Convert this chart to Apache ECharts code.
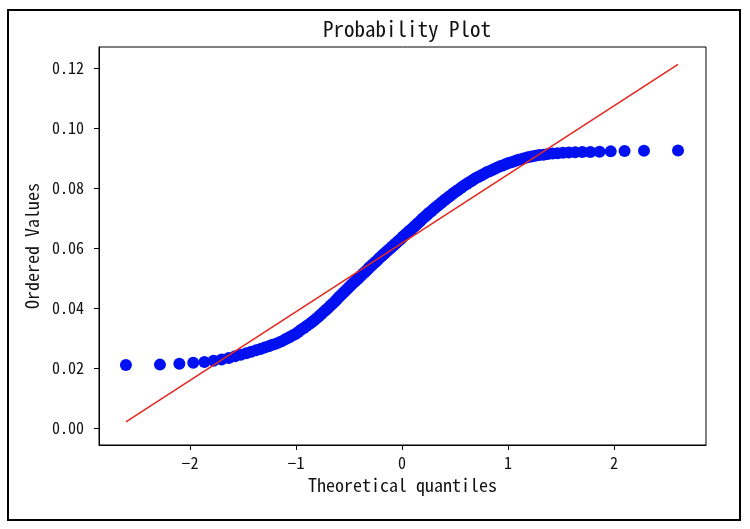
<!DOCTYPE html>
<html>
<head>
<meta charset="utf-8">
<script src="https://cdn.jsdelivr.net/npm/echarts@6/dist/echarts.min.js"></script>
<style>
html,body{margin:0;padding:0;background:#fff;}
#chart{width:750px;height:529px;}
</style>
</head>
<body>
<div id="chart"></div>
<script>
// Theoretical quantiles (x)
var xQuantiles = [
-2.604,-2.283,-2.100,-1.969,-1.864,-1.777,-1.701,-1.634,-1.574,-1.519,
-1.468,-1.421,-1.376,-1.335,-1.295,-1.257,-1.222,-1.187,-1.154,-1.122,
-1.091,-1.062,-1.033,-1.005,-0.978,-0.951,-0.925,-0.900,-0.875,-0.851,
-0.827,-0.804,-0.781,-0.759,-0.737,-0.715,-0.694,-0.673,-0.652,-0.631,
-0.611,-0.591,-0.571,-0.552,-0.533,-0.514,-0.495,-0.476,-0.457,-0.439,
-0.420,-0.402,-0.384,-0.366,-0.349,-0.331,-0.313,-0.296,-0.279,-0.261,
-0.244,-0.227,-0.210,-0.193,-0.176,-0.159,-0.142,-0.125,-0.109,-0.092,
-0.075,-0.058,-0.042,-0.025,-0.008,
0.008,0.025,0.042,0.058,0.075,0.092,0.109,0.125,0.142,0.159,
0.176,0.193,0.210,0.227,0.244,0.261,0.279,0.296,0.313,0.331,
0.349,0.366,0.384,0.402,0.420,0.439,0.457,0.476,0.495,0.514,
0.533,0.552,0.571,0.591,0.611,0.631,0.652,0.673,0.694,0.715,
0.737,0.759,0.781,0.804,0.827,0.851,0.875,0.900,0.925,0.951,
0.978,1.005,1.033,1.062,1.091,1.122,1.154,1.187,1.222,1.257,
1.295,1.335,1.376,1.421,1.468,1.519,1.574,1.634,1.701,1.777,
1.864,1.969,2.100,2.283,2.604
];
// Ordered values (y)
var orderedValues = [
0.0210,0.0211,0.0214,0.0217,0.0220,0.0224,0.0228,0.0233,0.0239,0.0244,
0.0249,0.0254,0.0259,0.0263,0.0268,0.0272,0.0277,0.0281,0.0286,0.0291,
0.0297,0.0302,0.0308,0.0313,0.0320,0.0327,0.0333,0.0340,0.0346,0.0352,
0.0359,0.0366,0.0373,0.0380,0.0387,0.0394,0.0401,0.0408,0.0415,0.0422,
0.0430,0.0437,0.0444,0.0451,0.0457,0.0464,0.0471,0.0477,0.0484,0.0490,
0.0496,0.0502,0.0508,0.0515,0.0520,0.0526,0.0533,0.0538,0.0544,0.0550,
0.0555,0.0561,0.0567,0.0572,0.0578,0.0583,0.0589,0.0594,0.0599,0.0605,
0.0610,0.0615,0.0621,0.0626,0.0631,
0.0637,0.0642,0.0647,0.0653,0.0658,0.0663,0.0669,0.0674,0.0680,0.0685,
0.0691,0.0697,0.0702,0.0707,0.0713,0.0718,0.0723,0.0729,0.0734,0.0739,
0.0744,0.0749,0.0754,0.0760,0.0764,0.0770,0.0774,0.0780,0.0785,0.0790,
0.0794,0.0799,0.0804,0.0809,0.0813,0.0818,0.0822,0.0827,0.0832,0.0836,
0.0840,0.0844,0.0848,0.0853,0.0856,0.0860,0.0864,0.0868,0.0872,0.0875,
0.0879,0.0883,0.0886,0.0889,0.0893,0.0896,0.0899,0.0902,0.0905,0.0907,
0.0910,0.0911,0.0913,0.0915,0.0916,0.0917,0.0918,0.0919,0.0920,0.0920,
0.0921,0.0922,0.0923,0.0924,0.0925
];
// Least-squares fit line endpoints
var fitX = [-2.604, 2.604];
var fitY = [0.0020, 0.1212];
// Tick labels
var xTicks = [-2, -1, 0, 1, 2];
var yTicks = [0.00, 0.02, 0.04, 0.06, 0.08, 0.10, 0.12];

var FONT = '"Noto Sans Mono CJK SC", "Noto Sans CJK SC", "DejaVu Sans Mono", monospace';

var points = xQuantiles.map(function (x, i) { return [x, orderedValues[i]]; });
var fitLine = fitX.map(function (x, i) { return [x, fitY[i]]; });

var chart = echarts.init(document.getElementById('chart'), null, {renderer: 'canvas'});
chart.setOption({
  animation: false,
  backgroundColor: '#fff',
  title: {
    text: 'Probability Plot',
    left: 402,
    top: 14,
    textAlign: 'center',
    textStyle: {fontFamily: FONT, fontSize: 21, fontWeight: 'normal', color: '#111'}
  },
  graphic: [{
    type: 'rect',
    shape: {x: 8, y: 10, width: 732, height: 510},
    style: {fill: null, stroke: '#000', lineWidth: 2},
    silent: true
  }],
  grid: {
    left: 99, top: 47, right: 44, bottom: 84,
    show: true, borderColor: '#000', borderWidth: 1, backgroundColor: 'transparent'
  },
  xAxis: {
    type: 'value',
    min: -2.858, max: 2.868,
    name: 'Theoretical quantiles',
    nameLocation: 'middle',
    nameGap: 28,
    nameTextStyle: {fontFamily: FONT, fontSize: 18, color: '#111'},
    axisLine: {show: true, onZero: false, lineStyle: {color: '#000', width: 1}},
    axisTick: {show: true, length: 5, customValues: xTicks, lineStyle: {color: '#000'}},
    axisLabel: {
      customValues: xTicks, margin: 10,
      fontFamily: FONT, fontSize: 16, color: '#111',
      formatter: function (v) { return v < 0 ? '\u2212' + Math.abs(v) : String(v); }
    },
    splitLine: {show: false}
  },
  yAxis: {
    type: 'value',
    min: -0.0057, max: 0.127,
    name: 'Ordered Values',
    nameLocation: 'middle',
    nameGap: 58,
    nameTextStyle: {fontFamily: FONT, fontSize: 18, color: '#111'},
    axisLine: {show: true, onZero: false, lineStyle: {color: '#000', width: 1}},
    axisTick: {show: true, length: 5, customValues: yTicks, lineStyle: {color: '#000'}},
    axisLabel: {
      customValues: yTicks, margin: 15,
      fontFamily: FONT, fontSize: 16, color: '#111',
      formatter: function (v) { return v.toFixed(2); }
    },
    splitLine: {show: false}
  },
  series: [
    {
      type: 'scatter',
      data: points,
      symbol: 'circle',
      symbolSize: 12,
      itemStyle: {color: '#0010f0', opacity: 1},
      z: 2
    },
    {
      type: 'line',
      data: fitLine,
      showSymbol: false,
      symbol: 'none',
      lineStyle: {color: '#e3291f', width: 1.6},
      z: 3
    }
  ]
});
</script>
</body>
</html>
